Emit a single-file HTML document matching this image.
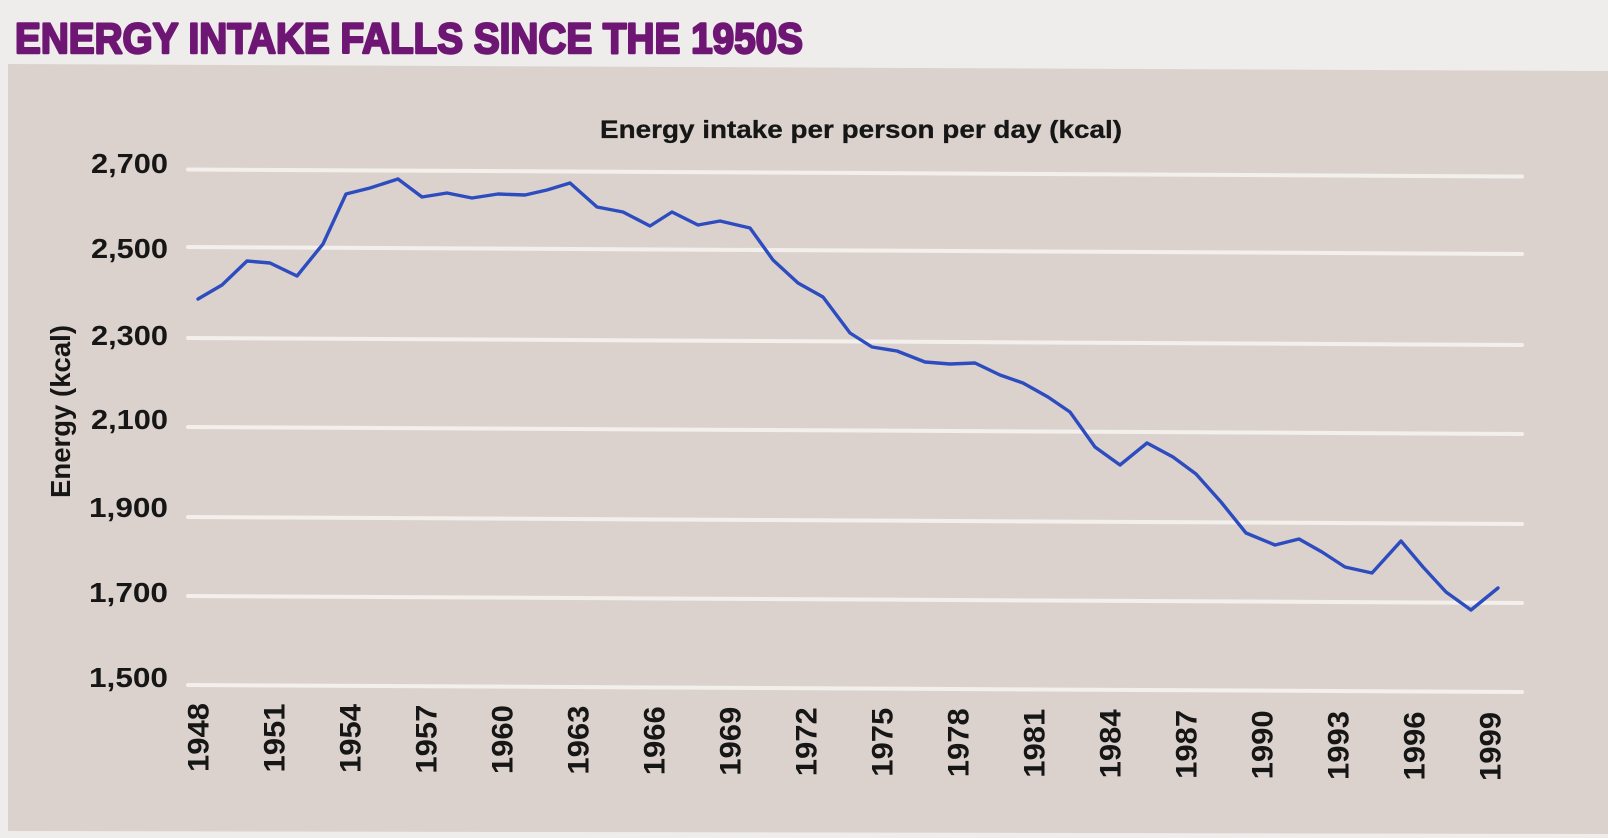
<!DOCTYPE html>
<html>
<head>
<meta charset="utf-8">
<style>
  html, body { margin:0; padding:0; background:#efedeb; }
  svg { display:block; }
  text { font-family: "Liberation Sans", Arial, sans-serif; font-weight:bold; }
</style>
</head>
<body>
<svg width="1608" height="838" viewBox="0 0 1608 838" xmlns="http://www.w3.org/2000/svg">
  <rect x="0" y="0" width="1608" height="838" fill="#efedeb"/>
  <!-- panel -->
  <polygon points="8,64 1608,71 1608,834 8,831" fill="#dcd2cd"/>

  <!-- title -->
  <text x="15" y="53" font-size="43" fill="#6e1673" stroke="#6e1673" stroke-width="2.4" stroke-linejoin="round" textLength="788" lengthAdjust="spacingAndGlyphs">ENERGY INTAKE FALLS SINCE THE 1950S</text>

  <!-- subtitle -->
  <text x="600" y="138" font-size="25" fill="#161616" stroke="#161616" stroke-width="0.3" textLength="522" lengthAdjust="spacingAndGlyphs">Energy intake per person per day (kcal)</text>

  <!-- gridlines -->
  <g stroke="#f3efed" stroke-width="4" stroke-linecap="round">
    <line x1="188" y1="169.5" x2="1522" y2="176.5"/>
    <line x1="188" y1="247" x2="1522" y2="254"/>
    <line x1="188" y1="338" x2="1522" y2="345"/>
    <line x1="188" y1="427" x2="1522" y2="434"/>
    <line x1="188" y1="517" x2="1522" y2="524"/>
    <line x1="188" y1="596" x2="1522" y2="603"/>
    <line x1="188" y1="685" x2="1522" y2="692"/>
  </g>

  <!-- y tick labels -->
  <g font-size="28" fill="#161616" text-anchor="end">
    <text x="168" y="173" textLength="77" lengthAdjust="spacingAndGlyphs">2,700</text>
    <text x="168" y="258" textLength="77" lengthAdjust="spacingAndGlyphs">2,500</text>
    <text x="168" y="345" textLength="77" lengthAdjust="spacingAndGlyphs">2,300</text>
    <text x="168" y="429" textLength="77" lengthAdjust="spacingAndGlyphs">2,100</text>
    <text x="168" y="517" textLength="79" lengthAdjust="spacingAndGlyphs">1,900</text>
    <text x="168" y="602" textLength="79" lengthAdjust="spacingAndGlyphs">1,700</text>
    <text x="168" y="687" textLength="79" lengthAdjust="spacingAndGlyphs">1,500</text>
  </g>

  <!-- y axis title -->
  <text transform="translate(70,411.5) rotate(-90)" text-anchor="middle" font-size="27.5" fill="#161616" textLength="173" lengthAdjust="spacingAndGlyphs">Energy (kcal)</text>

  <!-- x tick labels -->
  <g font-size="30" fill="#161616" text-anchor="end">
    <text transform="translate(208.5,703) rotate(-90)" textLength="69" lengthAdjust="spacingAndGlyphs">1948</text>
    <text transform="translate(284.5,703.5) rotate(-90)" textLength="69" lengthAdjust="spacingAndGlyphs">1951</text>
    <text transform="translate(360.5,704) rotate(-90)" textLength="69" lengthAdjust="spacingAndGlyphs">1954</text>
    <text transform="translate(436.5,704.6) rotate(-90)" textLength="69" lengthAdjust="spacingAndGlyphs">1957</text>
    <text transform="translate(512.5,705.1) rotate(-90)" textLength="69" lengthAdjust="spacingAndGlyphs">1960</text>
    <text transform="translate(588.5,705.6) rotate(-90)" textLength="69" lengthAdjust="spacingAndGlyphs">1963</text>
    <text transform="translate(664.5,706.2) rotate(-90)" textLength="69" lengthAdjust="spacingAndGlyphs">1966</text>
    <text transform="translate(740.5,706.7) rotate(-90)" textLength="69" lengthAdjust="spacingAndGlyphs">1969</text>
    <text transform="translate(816.5,707.2) rotate(-90)" textLength="69" lengthAdjust="spacingAndGlyphs">1972</text>
    <text transform="translate(892.5,707.8) rotate(-90)" textLength="69" lengthAdjust="spacingAndGlyphs">1975</text>
    <text transform="translate(968.5,708.3) rotate(-90)" textLength="69" lengthAdjust="spacingAndGlyphs">1978</text>
    <text transform="translate(1044.5,708.8) rotate(-90)" textLength="69" lengthAdjust="spacingAndGlyphs">1981</text>
    <text transform="translate(1120.5,709.4) rotate(-90)" textLength="69" lengthAdjust="spacingAndGlyphs">1984</text>
    <text transform="translate(1196.5,709.9) rotate(-90)" textLength="69" lengthAdjust="spacingAndGlyphs">1987</text>
    <text transform="translate(1272.5,710.4) rotate(-90)" textLength="69" lengthAdjust="spacingAndGlyphs">1990</text>
    <text transform="translate(1348.5,711) rotate(-90)" textLength="69" lengthAdjust="spacingAndGlyphs">1993</text>
    <text transform="translate(1424.5,711.5) rotate(-90)" textLength="69" lengthAdjust="spacingAndGlyphs">1996</text>
    <text transform="translate(1500.5,712) rotate(-90)" textLength="69" lengthAdjust="spacingAndGlyphs">1999</text>
  </g>

  <!-- data line -->
  <polyline fill="none" stroke="#2d4cbf" stroke-width="3.4" stroke-linejoin="round" stroke-linecap="round"
    points="198,299 222,285 247,261 270,263 297,276 323,244 346,194 370,188 398,179 422,197 447,193 472,198 498,194 525,195 547,190 570,183 597,207 623,212 650,226 672,212 698,225 720,221 750,228 773,260 798,283 823,297 850,333 872,347 897,351 925,362 950,364 975,363 1000,375 1023,383 1048,397 1070,412 1095,447 1120,465 1147,443 1173,457 1196,474 1221,502 1246,533 1275,545 1299,539 1322,552 1345,567 1372,573 1401,541 1423,567 1446,592 1471,610 1498,588"/>
</svg>
</body>
</html>
